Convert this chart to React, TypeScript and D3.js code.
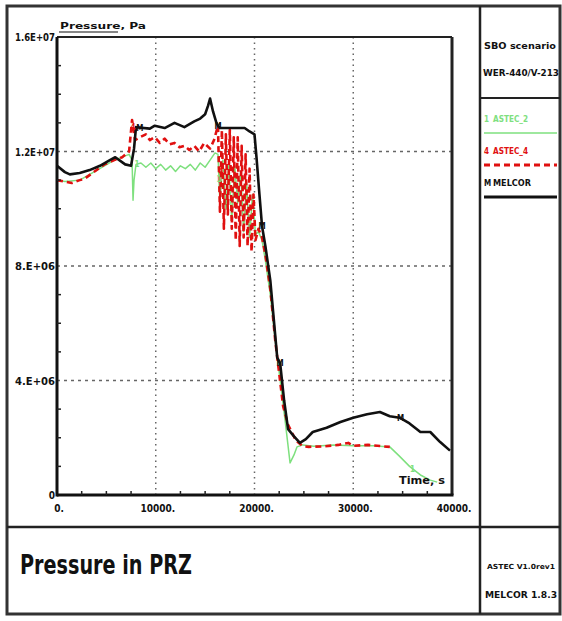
import React from 'react';
import { scaleLinear, line, range, bisector } from 'd3';

// pressure in the pressurizer, Pa vs time, s
const astec2Time = [0, 800, 2300, 3800, 5800, 7300, 7600, 7700, 7800, 8000, 8500, 9000, 9500, 10000, 10500, 11000, 11500, 12000, 12500, 13000, 13500, 14000, 14500, 15000, 15500, 16000, 16300, 16500, 16800, 17100, 17400, 17700, 18000, 18300, 18600, 18900, 19200, 19500, 19800, 20100, 20400, 20760, 21100, 21600, 22100, 22600, 23100, 23600, 24000, 24300, 24900, 26000, 28000, 30000, 32000, 33700, 34700, 35700, 36800, 37800, 38500];
const astec2Pressure = [11.0e6, 10.95e6, 11.0e6, 11.3e6, 11.7e6, 11.9e6, 11.7e6, 10.3e6, 11.0e6, 11.55e6, 11.6e6, 11.45e6, 11.6e6, 11.4e6, 11.55e6, 11.35e6, 11.5e6, 11.3e6, 11.5e6, 11.4e6, 11.55e6, 11.35e6, 11.6e6, 11.45e6, 11.7e6, 11.95e6, 11.9e6, 10.2e6, 11.7e6, 10.0e6, 11.6e6, 9.6e6, 11.5e6, 10.2e6, 11.3e6, 9.2e6, 10.9e6, 9.0e6, 10.5e6, 9.1e6, 9.2e6, 8.9e6, 8.2e6, 7.0e6, 5.4e6, 4.0e6, 2.6e6, 1.12e6, 1.4e6, 1.68e6, 1.75e6, 1.7e6, 1.75e6, 1.72e6, 1.72e6, 1.68e6, 1.35e6, 1.0e6, 0.7e6, 0.52e6, 0.45e6];

const astec4Time = [0, 800, 1500, 2300, 2800, 3800, 4800, 5800, 6600, 7300, 7600, 7900, 8400, 9000, 9400, 9900, 10400, 10900, 11400, 11900, 12400, 12900, 13400, 13900, 14400, 14900, 15500, 15900, 16300, 16500, 16700, 16900, 17100, 17300, 17500, 17700, 17900, 18100, 18300, 18500, 18700, 18900, 19100, 19300, 19500, 19700, 19900, 20100, 20400, 20760, 21100, 21600, 22100, 22900, 23400, 24200, 24900, 25500, 27000, 28500, 29500, 30000, 31500, 33000, 33700];
const astec4Pressure = [11.0e6, 10.95e6, 10.9e6, 11.0e6, 11.05e6, 11.3e6, 11.55e6, 11.7e6, 11.8e6, 12.0e6, 13.1e6, 12.4e6, 12.5e6, 12.6e6, 12.4e6, 12.5e6, 12.3e6, 12.45e6, 12.25e6, 12.3e6, 12.15e6, 12.2e6, 12.05e6, 12.2e6, 12.0e6, 12.3e6, 12.1e6, 12.4e6, 12.9e6, 9.9e6, 12.75e6, 9.3e6, 12.6e6, 9.8e6, 12.75e6, 9.3e6, 12.5e6, 8.9e6, 12.5e6, 8.7e6, 12.2e6, 9.0e6, 11.9e6, 8.7e6, 11.4e6, 8.5e6, 10.5e6, 8.9e6, 9.3e6, 9.0e6, 8.4e6, 7.2e6, 5.4e6, 3.1e6, 2.45e6, 1.9e6, 1.7e6, 1.68e6, 1.7e6, 1.75e6, 1.82e6, 1.72e6, 1.75e6, 1.7e6, 1.68e6];

const melcorTime = [0, 800, 1300, 2300, 3300, 4350, 5350, 5900, 6900, 7500, 7800, 8000, 9400, 9900, 10900, 11900, 12900, 13900, 14500, 15000, 15300, 15500, 15800, 16100, 16300, 16500, 19000, 19500, 20000, 20200, 20500, 20760, 21100, 21600, 22300, 22600, 23000, 23400, 24000, 24600, 25200, 25900, 27300, 28700, 30000, 31400, 32700, 33700, 34700, 35700, 36800, 37800, 38800, 39800];
const melcorPressure = [11.5e6, 11.28e6, 11.2e6, 11.25e6, 11.35e6, 11.5e6, 11.7e6, 11.8e6, 11.55e6, 11.5e6, 12.1e6, 12.85e6, 12.8e6, 12.9e6, 12.82e6, 13.0e6, 12.85e6, 13.05e6, 13.15e6, 13.3e6, 13.6e6, 13.85e6, 13.4e6, 13.05e6, 12.9e6, 12.82e6, 12.82e6, 12.7e6, 12.6e6, 11.8e6, 10.5e6, 9.4e6, 8.7e6, 7.5e6, 4.8e6, 4.6e6, 3.3e6, 2.3e6, 2.05e6, 1.82e6, 1.95e6, 2.2e6, 2.35e6, 2.55e6, 2.7e6, 2.82e6, 2.9e6, 2.75e6, 2.7e6, 2.5e6, 2.2e6, 2.2e6, 1.85e6, 1.55e6];

const astec2Marks = [8100, 16400, 36000];
const astec4Marks = [7700, 16600];
const melcorMarks = [8400, 16300, 20760, 22600, 34800];

const xTicks = [0, 10000, 20000, 30000, 40000];
const xTickLabels = ['0.', '10000.', '20000.', '30000.', '40000.'];
const yTicks = [0, 4e6, 8e6, 1.2e7, 1.6e7];
const yTickLabels = ['0', '4.E+06', '8.E+06', '1.2E+07', '1.6E+07'];

const W = 562, H = 621;
const plot = { left: 57, right: 452, top: 37, bottom: 495 };
const font = '"DejaVu Sans Condensed", "DejaVu Sans", sans-serif';

const x = scaleLinear().domain([0, 40000]).range([plot.left, plot.right]);
const y = scaleLinear().domain([0, 1.6e7]).range([plot.bottom, plot.top]);

type Pt = [number, number];
const zip = (t: number[], p: number[]): Pt[] => t.map((d, i) => [d, p[i]]);
const path = line<Pt>().x(d => x(d[0])).y(d => y(d[1]));
const interp = (pts: Pt[], t: number) => {
  const i = Math.max(1, Math.min(pts.length - 1, bisector((d: Pt) => d[0]).left(pts, t)));
  const a = pts[i - 1], b = pts[i];
  const k = (t - a[0]) / (b[0] - a[0] || 1);
  return a[1] + (b[1] - a[1]) * k;
};

const series = [
  { name: 'ASTEC_2', sym: '1', color: '#7ee07e', width: 1.5, dash: undefined as string | undefined, pts: zip(astec2Time, astec2Pressure), marks: astec2Marks },
  { name: 'ASTEC_4', sym: '4', color: '#e01010', width: 2.6, dash: '6,4', pts: zip(astec4Time, astec4Pressure), marks: astec4Marks },
  { name: 'MELCOR', sym: 'M', color: '#111', width: 2.6, dash: undefined as string | undefined, pts: zip(melcorTime, melcorPressure), marks: melcorMarks },
];

export default function App() {
  const minorX = range(0, 40001, 2500).filter(t => t % 10000 !== 0);
  const minorY = range(0, 1.6e7 + 1, 1e6).filter(v => v % 4e6 !== 0);
  return (
    <svg width={W} height={H} style={{ position: 'absolute', left: 0, top: 0, background: '#fff' }}>
      {/* frame */}
      <rect x={7} y={6} width={553} height={608} fill="none" stroke="#333" strokeWidth={3} />
      <line x1={7} x2={560} y1={527} y2={527} stroke="#222" strokeWidth={2.5} />
      <line x1={480} x2={480} y1={6} y2={614} stroke="#222" strokeWidth={2.5} />
      <line x1={480} x2={560} y1={98} y2={98} stroke="#222" strokeWidth={2} />

      {/* grid */}
      {xTicks.slice(1, -1).map(t => (
        <line key={'gx' + t} x1={x(t)} x2={x(t)} y1={plot.top} y2={plot.bottom} stroke="#666" strokeWidth={1.5} strokeDasharray="1.5,4" />
      ))}
      {yTicks.slice(1, -1).map(v => (
        <line key={'gy' + v} x1={plot.left} x2={plot.right} y1={y(v)} y2={y(v)} stroke="#666" strokeWidth={1.5} strokeDasharray="3,4" />
      ))}

      {/* series */}
      {series.map(s => (
        <path key={s.name} d={path(s.pts) || ''} fill="none" stroke={s.color} strokeWidth={s.width} strokeDasharray={s.dash} strokeLinejoin="round" />
      ))}
      {series.map(s => s.marks.map(t => (
        <text key={s.name + t} x={x(t)} y={y(interp(s.pts, t)) + 3} textAnchor="middle" fontFamily={font} fontWeight="bold" fontSize={8} fill={s.color}>{s.sym}</text>
      )))}

      {/* axes box */}
      <line x1={plot.left} x2={plot.right} y1={plot.top} y2={plot.top} stroke="#222" strokeWidth={2} />
      <line x1={plot.right} x2={plot.right} y1={plot.top} y2={plot.bottom} stroke="#222" strokeWidth={3} />
      <line x1={plot.left} x2={plot.left} y1={plot.top} y2={plot.bottom + 1.5} stroke="#111" strokeWidth={3} />
      <line x1={plot.left} x2={plot.right + 1.5} y1={plot.bottom} y2={plot.bottom} stroke="#111" strokeWidth={3} />
      {minorX.map(t => (
        <line key={'mx' + t} x1={x(t)} x2={x(t)} y1={plot.bottom} y2={plot.bottom - 4} stroke="#222" strokeWidth={1.5} />
      ))}
      {minorY.map(v => (
        <line key={'my' + v} x1={plot.left} x2={plot.left + 4} y1={y(v)} y2={y(v)} stroke="#222" strokeWidth={1.5} />
      ))}

      {/* tick labels */}
      {yTicks.map((v, i) => (
        <text key={'yl' + v} x={plot.left - 2} y={y(v) + 4} textAnchor="end" fontFamily={font} fontWeight="bold" fontSize={10}
          textLength={yTickLabels[i].length > 1 ? 40 : undefined} lengthAdjust="spacingAndGlyphs" fill="#111">{yTickLabels[i]}</text>
      ))}
      {xTicks.map((t, i) => (
        <text key={'xl' + t} x={x(t) + 2} y={plot.bottom + 17} textAnchor="middle" fontFamily={font} fontWeight="bold" fontSize={10} fill="#111">{xTickLabels[i]}</text>
      ))}
      <text x={60} y={29} fontFamily={font} fontWeight="bold" fontSize={9} fill="#111" textLength={86} lengthAdjust="spacingAndGlyphs">Pressure, Pa</text>
      <line x1={59} x2={118} y1={32} y2={32} stroke="#111" strokeWidth={1.2} />
      <text x={399} y={484} fontFamily={font} fontWeight="bold" fontSize={10} fill="#111" textLength={46} lengthAdjust="spacingAndGlyphs">Time, s</text>

      {/* title block */}
      <text x={484} y={49} fontFamily={font} fontWeight="bold" fontSize={8} fill="#111" textLength={72} lengthAdjust="spacingAndGlyphs">SBO scenario</text>
      <text x={483} y={76} fontFamily={font} fontWeight="bold" fontSize={8} fill="#111" textLength={76} lengthAdjust="spacingAndGlyphs">WER-440/V-213</text>

      {series.map((s, i) => {
        const ly = 122 + i * 32;
        return (
          <g key={'lg' + s.name}>
            <text x={484} y={ly} fontFamily={font} fontWeight="bold" fontSize={8} fill={s.color}>{s.sym}</text>
            <text x={493} y={ly} fontFamily={font} fontWeight="bold" fontSize={8} fill={s.color} textLength={i === 2 ? 38 : 35} lengthAdjust="spacingAndGlyphs">{s.name}</text>
            <line x1={484} x2={557} y1={ly + 11} y2={ly + 11} stroke={s.color} strokeWidth={i === 0 ? 1.5 : 3} strokeDasharray={s.dash} />
          </g>
        );
      })}

      <text x={20} y={574} fontFamily='"Liberation Sans Narrow", "DejaVu Sans Condensed", sans-serif' fontWeight="bold" fontSize={27} fill="#111" textLength={172} lengthAdjust="spacingAndGlyphs">Pressure in PRZ</text>
      <text x={487} y={569} fontFamily={font} fontWeight="bold" fontSize={7} fill="#111" textLength={68} lengthAdjust="spacingAndGlyphs">ASTEC V1.0rev1</text>
      <text x={485} y={598} fontFamily={font} fontWeight="bold" fontSize={8} fill="#111" textLength={72} lengthAdjust="spacingAndGlyphs">MELCOR 1.8.3</text>
    </svg>
  );
}
